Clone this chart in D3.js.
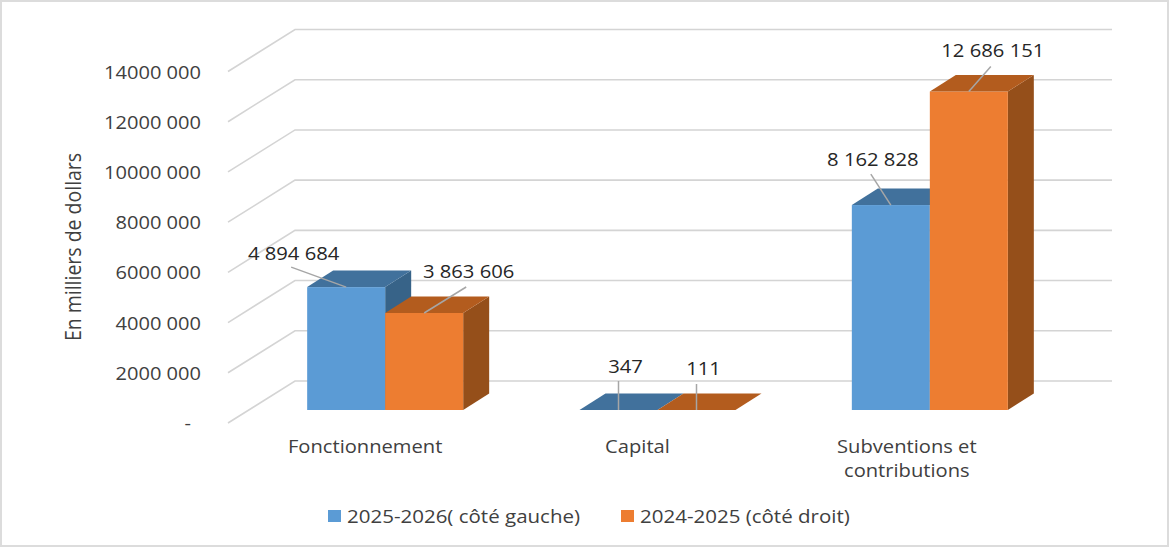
<!DOCTYPE html>
<html>
<head>
<meta charset="utf-8">
<script src="https://cdn.jsdelivr.net/npm/d3@7"></script>
<style>
html, body { margin: 0; padding: 0; background: #fff; }
svg { display: block; }
text { font-family: "Open Sans", sans-serif; }
</style>
</head>
<body>
<svg id="chart" width="1170" height="548"></svg>
<script>
const categories = ['Fonctionnement', 'Capital', 'Subventions et contributions']
const seriesNames = ['2025-2026( côté gauche)', '2024-2025 (côté droit)']
const values2025 = [4894684, 347, 8162828]
const values2024 = [3863606, 111, 12686151]
const valueLabels2025 = ['4 894 684', '347', '8 162 828']
const valueLabels2024 = ['3 863 606', '111', '12 686 151']
const yTicks = [0, 2000000, 4000000, 6000000, 8000000, 10000000, 12000000, 14000000]
const yTickLabels = ['-', '2000 000', '4000 000', '6000 000', '8000 000', '10000 000', '12000 000', '14000 000']

const colors = [
    { front: '#5b9bd5', top: '#41719c', side: '#376388' },
    { front: '#ed7d31', top: '#b35c1e', side: '#954f1a' },
]

// oblique projection used by the fake 3d
const wallDx = 67, wallDy = -42
const barInsetDx = 21, barInsetDy = -13
const barDx = 26, barDy = -16.5
const barW = 78

// leader line and label offsets per series, per category
const leaders = [
    [{ x1: -55, y1: -20, tx: -52.5, ty: -27.5 }, { x1: 0, y1: -29, tx: 7, ty: -37 }, { x1: -20, y1: -31, tx: -18, ty: -39 }],
    [{ x1: 42, y1: -26, tx: 44.5, ty: -35 }, { x1: 0, y1: -26, tx: 7, ty: -35 }, { x1: 22, y1: -25, tx: 24, ty: -34.5 }],
]

const svg = d3.select('#chart')

// the reference text is stretched sideways, so stretch ours the same way
function stretch(sel, k) {
    sel.each(function() {
        let len = this.getComputedTextLength()
        d3.select(this).attr('textLength', len * k).attr('lengthAdjust', 'spacingAndGlyphs')
    })
}

svg.append('rect')
    .attr('x', 1).attr('y', 1).attr('width', 1167).attr('height', 545)
    .attr('fill', '#fff').attr('stroke', '#dcdcdc').attr('stroke-width', 2)

const x = d3.scaleBand().domain(categories).range([228, 1045])
const y = d3.scaleLinear().domain([0, 14000000]).range([423, 71.5])

// gridlines on the side wall and the back wall
const grid = svg.append('g').attr('fill', 'none').attr('stroke', '#d4d4d4').attr('stroke-width', 1.6)
yTicks.forEach(t => {
    let p = d3.path()
    p.moveTo(x.range()[0], y(t))
    p.lineTo(x.range()[0] + wallDx, y(t) + wallDy)
    p.lineTo(x.range()[1] + wallDx, y(t) + wallDy)
    grid.append('path').attr('d', p)
})

// y axis
const yAxis = d3.axisLeft(y)
    .tickValues(yTicks)
    .tickSize(0)
    .tickPadding(27)
    .tickFormat((d, i) => yTickLabels[i])
const yG = svg.append('g').attr('transform', 'translate(228,1)').call(yAxis)
yG.select('.domain').remove()
yG.selectAll('text')
    .attr('font-size', 17.6)
    .attr('font-family', '"Open Sans", sans-serif')
    .attr('fill', '#404040')
    .call(stretch, 1.14)
yG.selectAll('.tick').filter(d => d === 0).select('text').attr('dx', -10)

svg.append('text')
    .attr('transform', 'translate(81,247) rotate(-90) scale(0.975,1.1)')
    .attr('text-anchor', 'middle')
    .attr('font-size', 20)
    .attr('fill', '#404040')
    .text('En milliers de dollars')

function drawBar(cat, value, seriesIdx) {
    let c = colors[seriesIdx]
    let x0 = x(cat) + x.bandwidth() / 2 + barInsetDx - barW + seriesIdx * barW
    let x1 = x0 + barW
    let yBase = y(0) + barInsetDy
    let yTop = y(value) + barInsetDy
    let g = svg.append('g')
    let poly = pts => pts.map(p => p.join(',')).join(' ')

    if (yBase - yTop > 1) {
        g.append('polygon')
            .attr('points', poly([[x1, yTop], [x1 + barDx, yTop + barDy], [x1 + barDx, yBase + barDy], [x1, yBase]]))
            .attr('fill', c.side)
        g.append('rect')
            .attr('x', x0).attr('y', yTop)
            .attr('width', barW).attr('height', yBase - yTop)
            .attr('fill', c.front)
    }
    g.append('polygon')
        .attr('points', poly([[x0, yTop], [x0 + barDx, yTop + barDy], [x1 + barDx, yTop + barDy], [x1, yTop]]))
        .attr('fill', c.top)
}

function drawLabel(cat, value, label, seriesIdx, i) {
    let l = leaders[seriesIdx][i]
    let cx = x(cat) + x.bandwidth() / 2 + barInsetDx - barW / 2 + seriesIdx * barW
    let cy = y(value) + barInsetDy
    svg.append('line')
        .attr('x1', cx + l.x1).attr('y1', cy + l.y1)
        .attr('x2', cx).attr('y2', cy)
        .attr('stroke', '#a6a6a6').attr('stroke-width', 1.5)
    svg.append('text')
        .attr('x', cx + l.tx).attr('y', cy + l.ty)
        .attr('text-anchor', 'middle')
        .attr('font-size', 17.6)
        .attr('fill', '#262626')
        .text(label)
        .call(stretch, 1.15)
}

categories.forEach((cat, i) => {
    drawBar(cat, values2025[i], 0)
    drawBar(cat, values2024[i], 1)
})
categories.forEach((cat, i) => {
    drawLabel(cat, values2025[i], valueLabels2025[i], 0, i)
    drawLabel(cat, values2024[i], valueLabels2024[i], 1, i)
})

// category labels, last one wraps on two lines
const catLines = [['Fonctionnement'], ['Capital'], ['Subventions et', 'contributions']]
const catNudge = [1, 1, -2]
categories.forEach((cat, i) => {
    catLines[i].forEach((line, j) => {
        svg.append('text')
            .attr('x', x(cat) + x.bandwidth() / 2 + catNudge[i])
            .attr('y', 453 + j * 24)
            .attr('text-anchor', 'middle')
            .attr('font-size', 17.6)
            .attr('fill', '#404040')
            .text(line)
            .call(stretch, 1.145)
    })
})

// legend
const legendX = [328, 621]
seriesNames.forEach((name, i) => {
    svg.append('rect')
        .attr('x', legendX[i]).attr('y', 510)
        .attr('width', 13).attr('height', 12)
        .attr('fill', colors[i].front)
    svg.append('text')
        .attr('x', legendX[i] + 19).attr('y', 523)
        .attr('font-size', 17.6)
        .attr('fill', '#404040')
        .text(name)
        .call(stretch, 1.165)
})
</script>
</body>
</html>
